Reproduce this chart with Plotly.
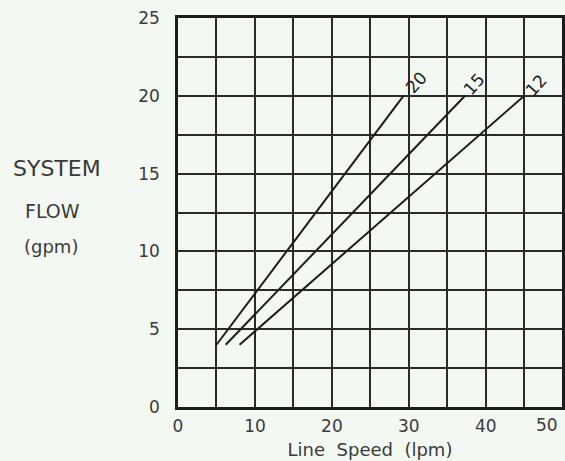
import plotly.graph_objects as go

# Data
series_names = ["20", "15", "12"]
line_speed = {  # x: Line Speed (lpm)
    "20": [5.0, 29.3],
    "15": [6.2, 37.3],
    "12": [8.0, 45.0],
}
system_flow = {  # y: System Flow (gpm)
    "20": [4.0, 20.0],
    "15": [4.0, 20.0],
    "12": [4.0, 20.0],
}
x_tick_vals = [0, 10, 20, 30, 40]
x_tick_text = ["0", "10", "20", "30", "40"]
x_edge_label = "50"
y_tick_vals = [0, 5, 10, 15, 20, 25]
y_tick_text = ["0", "5", "10", "15", "20", "25"]

BG = "#f4f8f3"
INK = "#1c1c1c"
TXT = "#3a3a3a"
FONT = "DejaVu Sans"

W, H = 565, 461
ML, MR, MT, MB = 178, 0, 18, 54
PW, PH = W - ML - MR, H - MT - MB

fig = go.Figure()
for name in series_names:
    fig.add_trace(go.Scatter(
        x=line_speed[name], y=system_flow[name], mode="lines",
        line=dict(color=INK, width=2), name=name, showlegend=False,
        hoverinfo="skip",
    ))

label_shift = {"20": (13, 14), "15": (9, 12), "12": (12, 11)}
for name in series_names:
    dx, dy = label_shift[name]
    fig.add_annotation(
        x=line_speed[name][-1], y=system_flow[name][-1], xref="x", yref="y",
        text=name, showarrow=False, textangle=-48,
        xshift=dx, yshift=dy,
        font=dict(family=FONT, size=17, color=INK),
    )

# edge tick label (the 50 lies at the clipped right edge)
fig.add_annotation(
    x=1.0, y=0, xref="paper", yref="y", text=x_edge_label, showarrow=False,
    xanchor="right", yanchor="top", xshift=-2, yshift=-6,
    font=dict(family=FONT, size=17, color=TXT),
)

# y-axis title, three lines
for txt, xpix, ypix, size in [("SYSTEM", 56, 169, 22), ("FLOW", 52, 211, 19), ("(gpm)", 50, 247, 18)]:
    fig.add_annotation(
        x=(xpix - ML) / PW, y=(H - MB - ypix) / PH, xref="paper", yref="paper", text=txt,
        showarrow=False, xanchor="center", yanchor="middle",
        font=dict(family=FONT, size=size, color=TXT),
    )

fig.update_layout(
    width=W, height=H,
    margin=dict(l=ML, r=MR, t=MT, b=MB),
    paper_bgcolor=BG, plot_bgcolor=BG,
    font=dict(family=FONT, color=TXT),
    xaxis=dict(
        range=[0, 49.9], tickvals=x_tick_vals, ticktext=x_tick_text,
        showgrid=True, gridcolor="#2a2a2a", gridwidth=1.8,
        minor=dict(dtick=5, tick0=0, showgrid=True, gridcolor="#2a2a2a", gridwidth=1.8),
        showline=True, linecolor=INK, linewidth=2.5, mirror=True,
        zeroline=False, ticks="", ticklabelstandoff=2,
        tickfont=dict(family=FONT, size=17, color=TXT),
        title=dict(text="Line  Speed  (lpm)", font=dict(family=FONT, size=18, color=TXT), standoff=9),
        fixedrange=True,
    ),
    yaxis=dict(
        range=[0, 25], tickvals=y_tick_vals, ticktext=y_tick_text,
        showgrid=True, gridcolor="#2a2a2a", gridwidth=1.8,
        minor=dict(dtick=2.5, tick0=0, showgrid=True, gridcolor="#2a2a2a", gridwidth=1.8),
        showline=True, linecolor=INK, linewidth=2.5, mirror=True,
        zeroline=False, ticks="", ticklabelstandoff=12,
        tickfont=dict(family=FONT, size=17, color=TXT),
        fixedrange=True,
    ),
)

fig.write_html(
    "out.html",
    config={"displayModeBar": False},
    post_script="document.body.style.margin='0';document.body.style.background='" + BG + "';",
)
